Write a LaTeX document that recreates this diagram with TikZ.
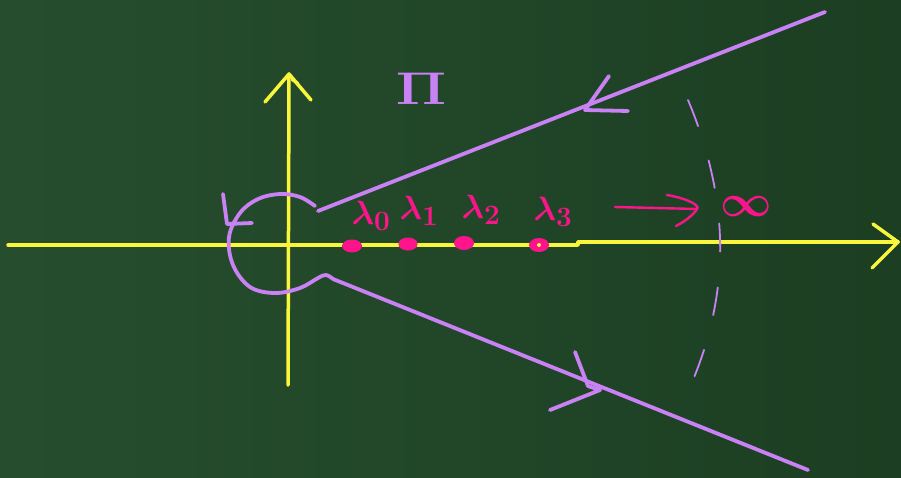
\documentclass[tikz,border=0pt]{standalone}
\definecolor{board}{RGB}{28,62,34}
\definecolor{boardl}{RGB}{38,78,46}
\definecolor{chalkyellow}{RGB}{250,246,60}
\definecolor{chalkpurple}{RGB}{200,130,245}
\definecolor{chalkpink}{RGB}{255,20,140}
\tikzset{
  axisline/.style={draw=chalkyellow, line width=3.5pt, line cap=round, line join=round},
  contour/.style={draw=chalkpurple, line width=3.8pt, line cap=round, line join=round},
  dashline/.style={draw=chalkpurple, line width=1.8pt, line cap=round, dash pattern=on 28pt off 36pt},
  pinkline/.style={draw=chalkpink, line width=2.4pt, line cap=round, line join=round},
  dot/.style={fill=chalkpink},
  lab/.style={text=chalkpink, inner sep=0pt, font=\Huge\boldmath},
}
\begin{document}
\begin{tikzpicture}[x=1pt,y=-1pt]
\useasboundingbox (0,0) rectangle (901,477);
\shade[left color=boardl, right color=board] (0,0) rectangle (901,477);
% coordinates
\coordinate (hL) at (8,245);
\coordinate (hS1) at (578,245);
\coordinate (hS2) at (578,242);
\coordinate (hR) at (898,242);
\coordinate (vB) at (288,385);
\coordinate (vT) at (289,74);
% axes
\draw[axisline] (hL) -- (hS1) -- (hS2) -- (hR);
\draw[axisline] (873,224) -- (hR) -- (872,268);
\draw[axisline] (vB) -- (vT);
\draw[axisline] (265,102) -- (vT) -- (311,100);
\draw[axisline, line width=2.5pt] (292,80) -- (298,83);
% contour
\coordinate (uA) at (318,211);
\coordinate (uB) at (825,12);
\coordinate (lA) at (333,279);
\coordinate (lB) at (808,470);
\draw[contour] (uA) -- (uB);
\draw[contour] (lA) -- (lB);
\draw[contour] (609,76) -- (585,110) -- (628,111);
\draw[contour] (575,352) -- (588,386) -- (600,390) -- (550,410);
\draw[contour] plot[smooth, tension=0.6] coordinates {(315,206) (300,197) (280,194) (258,199) (240,213) (229,237) (233,265) (250,287) (275,293) (300,288) (318,278) (326,275) (333,279)};
\draw[contour] (223,194) -- (227,224) -- (252,223);
% dashed circle at infinity
\draw[dashline] (688,100) .. controls (730,200) and (730,290) .. (693,380);
% eigenvalue dots
\fill[dot] (352,246) ellipse [x radius=10pt, y radius=6.5pt];
\fill[dot] (408,244) ellipse [x radius=9.5pt, y radius=6.5pt];
\fill[dot] (464,243) ellipse [x radius=10pt, y radius=7pt];
\fill[dot] (539,245) ellipse [x radius=10pt, y radius=7pt];
\fill[chalkyellow] (539,245) circle [radius=2pt];
% labels
\node[lab] (l0) at (371,216) {\scalebox{1.35}{$\lambda_0$}};
\node[lab] (l1) at (419,211) {\scalebox{1.35}{$\lambda_1$}};
\node[lab] (l2) at (481,210) {\scalebox{1.35}{$\lambda_2$}};
\node[lab] (l3) at (553,212) {\scalebox{1.35}{$\lambda_3$}};
\node[text=chalkpurple, inner sep=0pt, font=\Huge\boldmath] (pi) at (421,89) {\scalebox{2.3}[1.85]{$\Pi$}};
\node[text=chalkpink, inner sep=0pt, font=\Huge\boldmath] (inf) at (746,207) {\scalebox{1.8}{$\infty$}};
% arrow to infinity
\coordinate (aS) at (615,207);
\coordinate (aT) at (697,209);
\draw[pinkline] (aS) -- (aT);
\draw[pinkline] (667,195) .. controls (690,199) and (700,206) .. (aT) .. controls (694,214) and (686,221) .. (676,226);
\end{tikzpicture}
\end{document}
